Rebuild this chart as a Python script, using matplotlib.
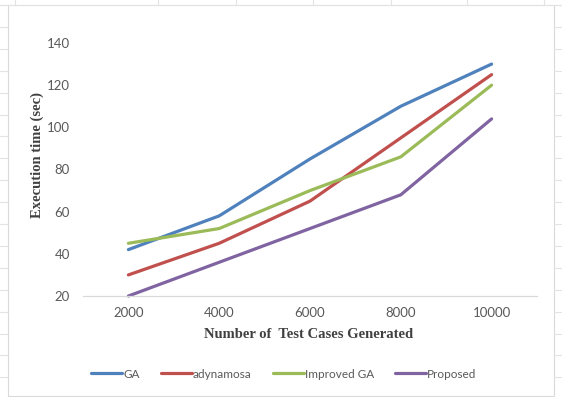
import matplotlib

matplotlib.use("Agg")
import matplotlib.pyplot as plt
from matplotlib.lines import Line2D
from matplotlib.patches import Rectangle

# data
test_cases = ["2000", "4000", "6000", "8000", "10000"]
ga = [42, 58, 85, 110, 130]
adynamosa = [30, 45, 65, 95, 125]
improved_ga = [45, 52, 70, 86, 120]
proposed = [20, 36, 52, 68, 104]
y_ticks = [20, 40, 60, 80, 100, 120, 140]

W, H = 562, 397
fig = plt.figure(figsize=(W / 100, H / 100), dpi=100)
fig.patch.set_facecolor("white")


def px(x, y):
    return x / W, 1 - y / H


# spreadsheet cell grid behind the chart
grid_c = "#e3e3e3"
for gx in [15, 158, 236, 313, 391, 467, 544]:
    fig.add_artist(Line2D([px(gx, 0)[0]] * 2, [1, px(0, 5)[1]], color=grid_c, lw=0.8))
for i in range(19):
    gy = 5 + 21.9 * i
    fig.add_artist(Line2D([0, px(8, 0)[0]], [px(0, gy)[1]] * 2, color=grid_c, lw=0.8))
    fig.add_artist(Line2D([px(554, 0)[0], 1], [px(0, gy)[1]] * 2, color=grid_c, lw=0.8))
fig.add_artist(Line2D([0, 1], [px(0, 5)[1]] * 2, color=grid_c, lw=0.8))
# chart area border
x0, y1 = px(8, 5)
x1, y0 = px(554, 396)
fig.add_artist(Rectangle((x0, y0), x1 - x0, y1 - y0, fill=False, ec="#d9d9d9", lw=0.8))

ax = fig.add_axes([83 / W, 1 - 296 / H, 454 / W, 253 / H])
ax.set_facecolor("none")

x = range(len(test_cases))
series = [
    ("GA", ga, "#4f81bd"),
    ("adynamosa", adynamosa, "#c0504d"),
    ("Improved GA", improved_ga, "#9bbb59"),
    ("Proposed", proposed, "#8064a2"),
]
for name, vals, col in series:
    ax.plot(x, vals, color=col, lw=2.3, label=name, solid_capstyle="round", clip_on=False)

ax.set_xlim(-0.5, len(test_cases) - 0.5)
ax.set_ylim(20, 140)
ax.set_xticks(list(x))
ax.set_xticklabels(test_cases)
ax.set_yticks(y_ticks)
for s in ["top", "right", "left"]:
    ax.spines[s].set_visible(False)
ax.spines["bottom"].set_color("#d9d9d9")
ax.spines["bottom"].set_linewidth(0.9)
ax.tick_params(axis="both", length=0, labelsize=9.5, labelcolor="#595959")
ax.tick_params(axis="y", pad=9.5)
ax.tick_params(axis="x", pad=8)
for lab in ax.get_xticklabels() + ax.get_yticklabels():
    lab.set_family("Lato")

fig.text(*px(37, 155), "Execution time (sec)", rotation=90, ha="center", va="center",
         family="Liberation Serif", fontweight="bold", fontsize=10.5, color="#404040")
fig.text(*px(309, 334), "Number of  Test Cases Generated", ha="center", va="center",
         family="Liberation Serif", fontweight="bold", fontsize=10.5, color="#404040")

leg = fig.legend(loc="center", bbox_to_anchor=px(284, 374), ncol=4, frameon=False,
                 handlelength=2.6, handletextpad=0.1, columnspacing=1.8,
                 prop={"family": "Lato", "size": 8.5})
for t in leg.get_texts():
    t.set_color("#595959")

fig.savefig("out.png", dpi=100)
